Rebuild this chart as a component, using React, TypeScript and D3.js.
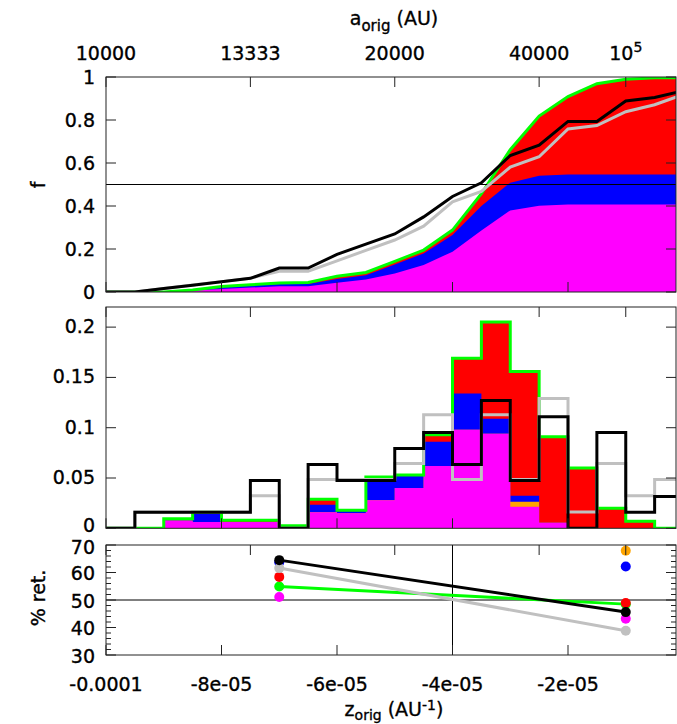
import React from 'react';
import * as d3 from 'd3';

// bin left edges in z_orig (AU^-1), width 5e-6
const binLeft = [-1e-4, -9.5e-5, -9e-5, -8.5e-5, -8e-5, -7.5e-5, -7e-5, -6.5e-5, -6e-5, -5.5e-5,
  -5e-5, -4.5e-5, -4e-5, -3.5e-5, -3e-5, -2.5e-5, -2e-5, -1.5e-5, -1e-5, -5e-6];
const binWidth = 5e-6;

const histBlack = [0, 0.0159, 0.0159, 0.0159, 0.0159, 0.0476, 0, 0.0635, 0.0476, 0.0476,
  0.0794, 0.0952, 0.0635, 0.127, 0.0476, 0.111, 0, 0.0952, 0.0159, 0.0317];
const histGray = [0, 0.0161, 0.0161, 0.0161, 0.0161, 0.0323, 0, 0.0484, 0.0484, 0.0484,
  0.0645, 0.1129, 0.0484, 0.1129, 0.0484, 0.129, 0.0161, 0.0645, 0.0323, 0.0484];
const histTotal = [0, 0, 0.0095, 0.016, 0.008, 0.008, 0.0025, 0.029, 0.018, 0.051,
  0.053, 0.093, 0.169, 0.205, 0.156, 0.091, 0.06, 0.02, 0.007, 0];
const histBlue = [0, 0, 0.0095, 0.015, 0.0063, 0.0063, 0, 0.0235, 0.017, 0.05,
  0.052, 0.086, 0.134, 0.109, 0.0324, 0.0056, 0, 0, 0, 0];
const histOrange = [0, 0, 0.0078, 0.0063, 0.0063, 0.0063, 0, 0.0159, 0.015, 0.028,
  0.04, 0.062, 0.098, 0.094, 0.0265, 0.0056, 0, 0, 0, 0];
const histMagenta = [0, 0, 0.0078, 0.0063, 0.0063, 0.0063, 0, 0.0159, 0.015, 0.028,
  0.04, 0.062, 0.098, 0.094, 0.0215, 0.0056, 0, 0, 0, 0];

// bottom panel: % retrograde
const retX = [-7e-5, -1e-5];
const retBlack = [64.5, 45.6];
const retGray = [61.6, 38.8];
const retGreen = [54.9, 48.5];
const retRed = [58.4, 48.9];
const retMagenta = [51.1, 43.2];
const retBlue = [63.7, 62.2];
const retOrange = [null, 67.9];

const x1Ticks = [-1e-4, -8e-5, -6e-5, -4e-5, -2e-5];
const x1Labels = ['-0.0001', '-8e-05', '-6e-05', '-4e-05', '-2e-05'];
const x2Ticks = [-1e-4, -7.5e-5, -5e-5, -2.5e-5, -1e-5];
const x2Labels = ['10000', '13333', '20000', '40000', '10^5'];
const yTopTicks = [0, 0.2, 0.4, 0.6, 0.8, 1];
const yTopLabels = ['0', '0.2', '0.4', '0.6', '0.8', '1'];
const yMidTicks = [0, 0.05, 0.1, 0.15, 0.2];
const yMidLabels = ['0', '0.05', '0.1', '0.15', '0.2'];
const yBotTicks = [30, 40, 50, 60, 70];
const yBotMinor = [32, 34, 36, 38, 42, 44, 46, 48, 52, 54, 56, 58, 62, 64, 66, 68];

const RED = '#ff0000', BLUE = '#0000ff', MAG = '#ff00ff', GREEN = '#00ff00', ORANGE = '#ffa500', GRAY = '#c0c0c0';
const FONT = 'DejaVu Sans';
const FS = 19;

const L = 106, R = 676;
const x = d3.scaleLinear().domain([-1e-4, -1.3e-6]).range([L, R]);
const yTop = d3.scaleLinear().domain([0, 1]).range([292, 77]);
const yMid = d3.scaleLinear().domain([0, 0.22]).range([528.3, 307]);
const yBot = d3.scaleLinear().domain([30, 70]).range([655, 545]);

const edges = [...binLeft, binLeft[binLeft.length - 1] + binWidth];
const stepPts = (v: number[]) => [...binLeft.map((b, i) => [b, v[i]] as [number, number]), [edges[edges.length - 1], v[v.length - 1]] as [number, number]];
const cumPts = (v: number[]) => {
  const c = [0, ...Array.from(d3.cumsum(v))];
  return edges.map((e, i) => [e, c[i]] as [number, number]);
};

function Frame({ y, ticksY, minorY, top, bottom }: any) {
  const tl = 10;
  return (
    <g stroke="#222" strokeWidth={1} fill="none">
      <rect x={L} y={top} width={R - L} height={bottom - top} />
      {x1Ticks.map((t) => <line key={'b' + t} x1={x(t)} x2={x(t)} y1={bottom} y2={bottom - tl} />)}
      {x2Ticks.map((t) => <line key={'t' + t} x1={x(t)} x2={x(t)} y1={top} y2={top + tl} />)}
      {ticksY.map((t: number) => (
        <g key={'y' + t}>
          <line x1={L} x2={L + tl} y1={y(t)} y2={y(t)} />
          <line x1={R} x2={R - tl} y1={y(t)} y2={y(t)} />
        </g>
      ))}
      {(minorY || []).map((t: number) => (
        <g key={'m' + t}>
          <line x1={L} x2={L + 5} y1={y(t)} y2={y(t)} />
          <line x1={R} x2={R - 5} y1={y(t)} y2={y(t)} />
        </g>
      ))}
    </g>
  );
}

export default function App() {
  const stepLine = (y: any) => d3.line<[number, number]>().x((d) => x(d[0])).y((d) => y(d[1])).curve(d3.curveStepAfter);
  const stepArea = (y: any) => d3.area<[number, number]>().x((d) => x(d[0])).y0(y(0)).y1((d) => y(d[1])).curve(d3.curveStepAfter);
  const linLine = d3.line<[number, number]>().x((d) => x(d[0])).y((d) => yTop(d[1]));
  const linArea = d3.area<[number, number]>().x((d) => x(d[0])).y0(yTop(0)).y1((d) => yTop(d[1]));
  const retLine = d3.line<[number, number]>().x((d) => x(d[0])).y((d) => yBot(d[1]));

  const pts = (v: (number | null)[]) => retX.map((xx, i) => [xx, v[i]]).filter((d) => d[1] != null) as [number, number][];

  const dotSeries: [string, (number | null)[]][] = [
    [MAG, retMagenta], [GREEN, retGreen], [RED, retRed], [ORANGE, retOrange], [BLUE, retBlue], [GRAY, retGray], ['#000', retBlack],
  ];

  const txt = { fill: '#000', stroke: '#000', strokeWidth: 0.35 };

  return (
    <div style={{ position: 'absolute', left: 0, top: 0 }}>
      <svg width={677} height={724} style={{ display: 'block', background: '#fff' }} fontFamily={FONT}>
        <defs>
          <clipPath id="cTop"><rect x={L} y={77} width={R - L} height={215} /></clipPath>
          <clipPath id="cMid"><rect x={L} y={307} width={R - L} height={221.3} /></clipPath>
          <clipPath id="cBot"><rect x={L} y={545} width={R - L} height={110} /></clipPath>
        </defs>

        {/* TOP PANEL: cumulative */}
        <g clipPath="url(#cTop)">
          <path d={linArea(cumPts(histTotal)) || ''} fill={RED} />
          <path d={linArea(cumPts(histBlue)) || ''} fill={BLUE} />
          <path d={linArea(cumPts(histMagenta)) || ''} fill={MAG} />
          <path d={linLine(cumPts(histTotal)) || ''} fill="none" stroke={GREEN} strokeWidth={3} />
          <line x1={L} x2={R} y1={yTop(0.5)} y2={yTop(0.5)} stroke="#000" strokeWidth={1} />
          <path d={linLine(cumPts(histGray)) || ''} fill="none" stroke={GRAY} strokeWidth={3} />
          <path d={linLine(cumPts(histBlack)) || ''} fill="none" stroke="#000" strokeWidth={3} />
        </g>
        <Frame y={yTop} ticksY={yTopTicks} top={77} bottom={292} />

        {/* MIDDLE PANEL: histograms */}
        <g clipPath="url(#cMid)">
          <path d={stepArea(yMid)(stepPts(histTotal)) || ''} fill={RED} />
          <path d={stepArea(yMid)(stepPts(histBlue)) || ''} fill={BLUE} />
          <path d={stepArea(yMid)(stepPts(histOrange)) || ''} fill={ORANGE} />
          <path d={stepArea(yMid)(stepPts(histMagenta)) || ''} fill={MAG} />
          <path d={stepLine(yMid)(stepPts(histTotal)) || ''} fill="none" stroke={GREEN} strokeWidth={3} />
          <path d={stepLine(yMid)(stepPts(histGray)) || ''} fill="none" stroke={GRAY} strokeWidth={3} />
          <path d={stepLine(yMid)(stepPts(histBlack)) || ''} fill="none" stroke="#000" strokeWidth={3} />
        </g>
        <Frame y={yMid} ticksY={yMidTicks} top={307} bottom={528.3} />

        {/* BOTTOM PANEL: % retrograde */}
        <g clipPath="url(#cBot)">
          <line x1={L} x2={R} y1={yBot(50)} y2={yBot(50)} stroke="#000" strokeWidth={1} />
          <line x1={x(-4e-5)} x2={x(-4e-5)} y1={545} y2={655} stroke="#000" strokeWidth={1} />
          <path d={retLine(pts(retGreen)) || ''} fill="none" stroke={GREEN} strokeWidth={3} />
          <path d={retLine(pts(retGray)) || ''} fill="none" stroke={GRAY} strokeWidth={3} />
          <path d={retLine(pts(retBlack)) || ''} fill="none" stroke="#000" strokeWidth={3} />
          {dotSeries.map(([c, v]) => pts(v).map((d, i) => (
            <circle key={c + i} cx={x(d[0])} cy={yBot(d[1])} r={5} fill={c} />
          )))}
        </g>
        <Frame y={yBot} ticksY={yBotTicks} minorY={yBotMinor} top={545} bottom={655} />

        {/* y tick labels */}
        <g fontSize={FS} textAnchor="end" {...txt}>
          {yTopTicks.map((t, i) => <text key={'lt' + t} x={95} y={yTop(t) + 7}>{yTopLabels[i]}</text>)}
          {yMidTicks.map((t, i) => <text key={'lm' + t} x={95} y={yMid(t) + (t === 0 ? 3.5 : 6)}>{yMidLabels[i]}</text>)}
          {yBotTicks.map((t) => <text key={'lb' + t} x={95} y={yBot(t) + (t === 70 ? 9 : 7.5)}>{String(t)}</text>)}
        </g>

        {/* x tick labels */}
        <g fontSize={FS} textAnchor="middle" {...txt}>
          {x1Ticks.map((t, i) => <text key={'x1' + t} x={x(t)} y={691}>{x1Labels[i]}</text>)}
          {x2Ticks.map((t, i) => x2Labels[i] === '10^5'
            ? <text key={'x2' + t} x={x(t)} y={60}>10<tspan dy={-8} fontSize={14}>5</tspan></text>
            : <text key={'x2' + t} x={x(t)} y={60}>{x2Labels[i]}</text>)}
        </g>

        {/* axis titles */}
        <g {...txt}>
          <text x={394} y={25} fontSize={FS} textAnchor="middle">a<tspan dy={6} fontSize={15}>orig</tspan><tspan dy={-6}> (AU)</tspan></text>
          <text x={394} y={716} fontSize={FS} textAnchor="middle">z<tspan dy={4} fontSize={14}>orig</tspan><tspan dy={-4}> (AU</tspan><tspan dy={-6} fontSize={14}>-1</tspan><tspan dy={6}>)</tspan></text>
          <text transform="translate(45,185) rotate(-90)" fontSize={FS} textAnchor="middle">f</text>
          <text transform="translate(45,598) rotate(-90)" fontSize={FS} textAnchor="middle">% ret.</text>
        </g>
      </svg>
    </div>
  );
}
